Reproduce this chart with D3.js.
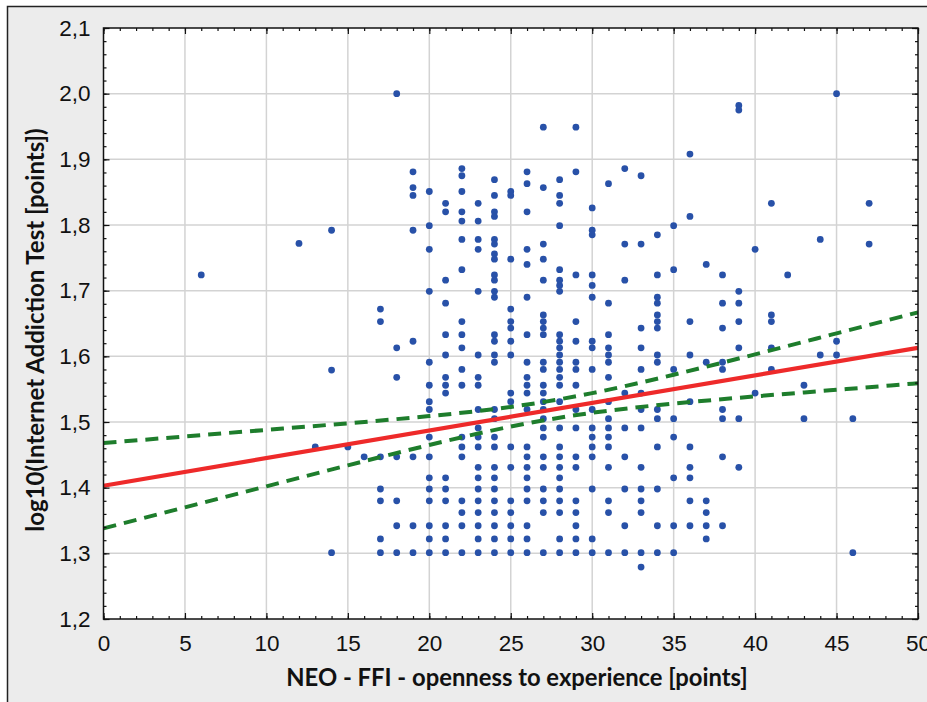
<!DOCTYPE html>
<html>
<head>
<meta charset="utf-8">
<script src="https://cdn.jsdelivr.net/npm/d3@7"></script>
<style>
  html, body { margin: 0; padding: 0; background: #fff; }
  svg { display: block; }
</style>
</head>
<body>
<div id="chart"></div>
<script>
// openness score (x) and the log10(IAT) values seen in each column
var openness = [6, 12, 13, 14, 15, 16, 17, 18, 19, 20, 21, 22, 23, 24, 25, 26, 27,
                28, 29, 30, 31, 32, 33, 34, 35, 36, 37, 38, 39, 40, 41, 42, 43, 44, 45, 46, 47];
var logIAT = [
  [1.724],
  [1.772],
  [1.462],
  [1.792, 1.579, 1.301],
  [1.462],
  [1.447],
  [1.672, 1.653, 1.447, 1.398, 1.380, 1.322, 1.301],
  [2.000, 1.613, 1.568, 1.447, 1.380, 1.342, 1.301],
  [1.881, 1.857, 1.845, 1.792, 1.623, 1.447, 1.342, 1.301],
  [1.851, 1.799, 1.763, 1.699, 1.591, 1.556, 1.531, 1.519, 1.477, 1.447, 1.415, 1.398, 1.380, 1.342, 1.322, 1.301],
  [1.833, 1.820, 1.716, 1.681, 1.633, 1.602, 1.568, 1.556, 1.544, 1.415, 1.398, 1.380, 1.342, 1.322, 1.301],
  [1.886, 1.875, 1.851, 1.820, 1.806, 1.778, 1.732, 1.653, 1.633, 1.613, 1.580, 1.556, 1.477, 1.462, 1.447, 1.380, 1.362, 1.342, 1.301],
  [1.833, 1.806, 1.778, 1.763, 1.699, 1.602, 1.568, 1.556, 1.519, 1.491, 1.477, 1.462, 1.431, 1.415, 1.398, 1.380, 1.362, 1.342, 1.322, 1.301],
  [1.869, 1.845, 1.820, 1.813, 1.778, 1.771, 1.756, 1.748, 1.724, 1.716, 1.699, 1.690, 1.633, 1.623, 1.602, 1.591, 1.519, 1.505, 1.477, 1.462, 1.431, 1.415, 1.398, 1.380, 1.362, 1.342, 1.322, 1.301],
  [1.851, 1.845, 1.748, 1.672, 1.653, 1.643, 1.623, 1.602, 1.544, 1.531, 1.462, 1.431, 1.380, 1.362, 1.342, 1.322, 1.301],
  [1.881, 1.863, 1.820, 1.763, 1.740, 1.690, 1.633, 1.591, 1.568, 1.556, 1.544, 1.519, 1.462, 1.447, 1.431, 1.415, 1.398, 1.380, 1.342, 1.322, 1.301],
  [1.949, 1.857, 1.771, 1.748, 1.716, 1.663, 1.653, 1.643, 1.633, 1.591, 1.580, 1.556, 1.544, 1.531, 1.519, 1.505, 1.491, 1.477, 1.447, 1.431, 1.398, 1.380, 1.362, 1.301],
  [1.869, 1.845, 1.833, 1.799, 1.732, 1.716, 1.708, 1.699, 1.633, 1.623, 1.613, 1.602, 1.591, 1.580, 1.568, 1.556, 1.531, 1.491, 1.462, 1.447, 1.431, 1.415, 1.398, 1.380, 1.362, 1.322, 1.301],
  [1.949, 1.881, 1.724, 1.653, 1.623, 1.591, 1.580, 1.556, 1.519, 1.491, 1.447, 1.431, 1.380, 1.362, 1.342, 1.322, 1.301],
  [1.826, 1.792, 1.785, 1.724, 1.708, 1.690, 1.623, 1.613, 1.580, 1.519, 1.491, 1.477, 1.462, 1.447, 1.398, 1.322, 1.301],
  [1.863, 1.681, 1.633, 1.613, 1.602, 1.591, 1.568, 1.531, 1.505, 1.491, 1.477, 1.462, 1.431, 1.380, 1.362, 1.301],
  [1.886, 1.771, 1.716, 1.544, 1.491, 1.447, 1.398, 1.342, 1.301],
  [1.875, 1.771, 1.643, 1.613, 1.580, 1.544, 1.519, 1.491, 1.431, 1.398, 1.380, 1.362, 1.301, 1.279],
  [1.785, 1.724, 1.690, 1.681, 1.663, 1.653, 1.643, 1.602, 1.591, 1.519, 1.505, 1.462, 1.398, 1.342, 1.301],
  [1.799, 1.732, 1.580, 1.505, 1.477, 1.415, 1.342, 1.301],
  [1.908, 1.813, 1.653, 1.602, 1.531, 1.462, 1.431, 1.415, 1.380, 1.342],
  [1.740, 1.591, 1.380, 1.362, 1.342, 1.322],
  [1.724, 1.681, 1.643, 1.591, 1.580, 1.519, 1.505, 1.447, 1.342],
  [1.982, 1.975, 1.699, 1.681, 1.653, 1.613, 1.505, 1.431],
  [1.763, 1.544],
  [1.833, 1.663, 1.653, 1.613, 1.580],
  [1.724],
  [1.556, 1.505],
  [1.778, 1.602],
  [2.000, 1.623, 1.602],
  [1.505, 1.301],
  [1.833, 1.771]
];

// regression line and 95% confidence band
var fitX = [0, 50];
var fitY = [1.403, 1.613];
var bandX = [0, 5, 10, 15, 20, 25, 30, 35, 40, 45, 50];
var bandUpper = [1.468, 1.478, 1.488, 1.498, 1.509, 1.523, 1.544, 1.572, 1.603, 1.635, 1.667];
var bandLower = [1.338, 1.370, 1.402, 1.434, 1.465, 1.493, 1.514, 1.528, 1.539, 1.549, 1.559];

var xTicks = [0, 5, 10, 15, 20, 25, 30, 35, 40, 45, 50];
var yTicks = [1.2, 1.3, 1.4, 1.5, 1.6, 1.7, 1.8, 1.9, 2.0, 2.1];

var W = 927, H = 702;
var margin = {top: 28, right: 9, bottom: 83, left: 103.5},
    width = W - margin.left - margin.right,
    height = H - margin.top - margin.bottom;

var x = d3.scaleLinear().domain([0, 50]).range([0, width]);
var y = d3.scaleLinear().domain([1.2, 2.1]).range([height, 0]);
var fmt = function(d) { return d3.format(".1f")(d).replace(".", ","); };

var svg = d3.select("#chart").append("svg")
    .attr("width", W)
    .attr("height", H);

// grey frame of the exported figure
svg.append("rect")
    .attr("x", 7.5).attr("y", 6.5)
    .attr("width", W + 10).attr("height", H + 10)
    .attr("fill", "#ececec")
    .attr("stroke", "#222")
    .attr("stroke-width", 1.5);

var g = svg.append("g")
    .attr("transform", "translate(" + margin.left + "," + margin.top + ")");

g.append("rect")
    .attr("width", width).attr("height", height)
    .attr("fill", "#fff");

// grid
g.selectAll(".vgrid")
    .data(xTicks.slice(1, -1))
  .enter().append("line")
    .attr("x1", function(d) { return x(d); })
    .attr("x2", function(d) { return x(d); })
    .attr("y1", 0).attr("y2", height)
    .attr("stroke", "#d3d3d3").attr("stroke-width", 1.5);
g.selectAll(".hgrid")
    .data(yTicks.slice(1, -1))
  .enter().append("line")
    .attr("y1", function(d) { return y(d); })
    .attr("y2", function(d) { return y(d); })
    .attr("x1", 0).attr("x2", width)
    .attr("stroke", "#d3d3d3").attr("stroke-width", 1.5);

var defs = svg.append("defs");
defs.append("clipPath").attr("id", "clip")
  .append("rect").attr("width", width).attr("height", height);

// points
var points = [];
openness.forEach(function(o, i) {
  logIAT[i].forEach(function(v) { points.push({x: o, y: v}); });
});

var plot = g.append("g").attr("clip-path", "url(#clip)");

plot.selectAll(".dot")
    .data(points)
  .enter().append("circle")
    .attr("class", "dot")
    .attr("cx", function(d) { return x(d.x); })
    .attr("cy", function(d) { return y(d.y); })
    .attr("r", 3.4)
    .attr("fill", "#2851a8");

var band = d3.line()
    .x(function(d) { return x(d[0]); })
    .y(function(d) { return y(d[1]); })
    .curve(d3.curveNatural);

plot.append("path")
    .datum(bandX.map(function(v, i) { return [v, bandUpper[i]]; }))
    .attr("d", band)
    .attr("fill", "none").attr("stroke", "#1e7d2c")
    .attr("stroke-width", 4).attr("stroke-dasharray", "13,8");
plot.append("path")
    .datum(bandX.map(function(v, i) { return [v, bandLower[i]]; }))
    .attr("d", band)
    .attr("fill", "none").attr("stroke", "#1e7d2c")
    .attr("stroke-width", 4).attr("stroke-dasharray", "13,8");

plot.append("path")
    .datum(fitX.map(function(v, i) { return [v, fitY[i]]; }))
    .attr("d", d3.line().x(function(d) { return x(d[0]); }).y(function(d) { return y(d[1]); }))
    .attr("fill", "none").attr("stroke", "#ee2a2a")
    .attr("stroke-width", 4.2);

// axes, ticks pointing inward on all four sides
var minorX = d3.range(0, 51, 1), minorY = d3.range(1.2, 2.101, 0.02);

function axisGroup(axis, tr) {
  var a = g.append("g").attr("transform", tr).call(axis);
  a.select(".domain").remove();
  a.selectAll("line").attr("stroke", "#111").attr("stroke-width", 1.2);
  return a;
}

axisGroup(d3.axisBottom(x).tickValues(minorX).tickSize(-3).tickFormat(""), "translate(0," + height + ")");
axisGroup(d3.axisTop(x).tickValues(minorX).tickSize(-3).tickFormat(""), "translate(0,0)");
axisGroup(d3.axisLeft(y).tickValues(minorY).tickSize(-3).tickFormat(""), "translate(0,0)");
axisGroup(d3.axisRight(y).tickValues(minorY).tickSize(-3).tickFormat(""), "translate(" + width + ",0)");

var xAxis = axisGroup(d3.axisBottom(x).tickValues(xTicks).tickSize(-6).tickPadding(16), "translate(0," + height + ")");
axisGroup(d3.axisTop(x).tickValues(xTicks).tickSize(-6).tickFormat(""), "translate(0,0)");
var yAxis = axisGroup(d3.axisLeft(y).tickValues(yTicks).tickSize(-6).tickPadding(13).tickFormat(fmt), "translate(0,0)");
axisGroup(d3.axisRight(y).tickValues(yTicks).tickSize(-6).tickFormat(""), "translate(" + width + ",0)");

[xAxis, yAxis].forEach(function(a) {
  a.selectAll("text")
    .attr("font-family", "'Liberation Sans', Arial, sans-serif")
    .attr("font-size", "22.5px")
    .attr("fill", "#111");
});

g.append("rect")
    .attr("width", width).attr("height", height)
    .attr("fill", "none").attr("stroke", "#111").attr("stroke-width", 1.5);

// axis titles
g.append("text")
    .attr("x", 413.5)
    .attr("y", height + 67)
    .attr("text-anchor", "middle")
    .attr("font-family", "Lato, 'Open Sans', sans-serif")
    .attr("font-weight", "bold")
    .attr("font-size", "23.8px")
    .attr("fill", "#111")
    .text("NEO - FFI - openness to experience [points]");

g.append("text")
    .attr("transform", "rotate(-90)")
    .attr("x", -(330 - margin.top))
    .attr("y", 44 - margin.left)
    .attr("text-anchor", "middle")
    .attr("font-family", "Lato, 'Open Sans', sans-serif")
    .attr("font-weight", "bold")
    .attr("font-size", "24px")
    .attr("fill", "#111")
    .text("log10(Internet Addiction Test [points])");
</script>
</body>
</html>
